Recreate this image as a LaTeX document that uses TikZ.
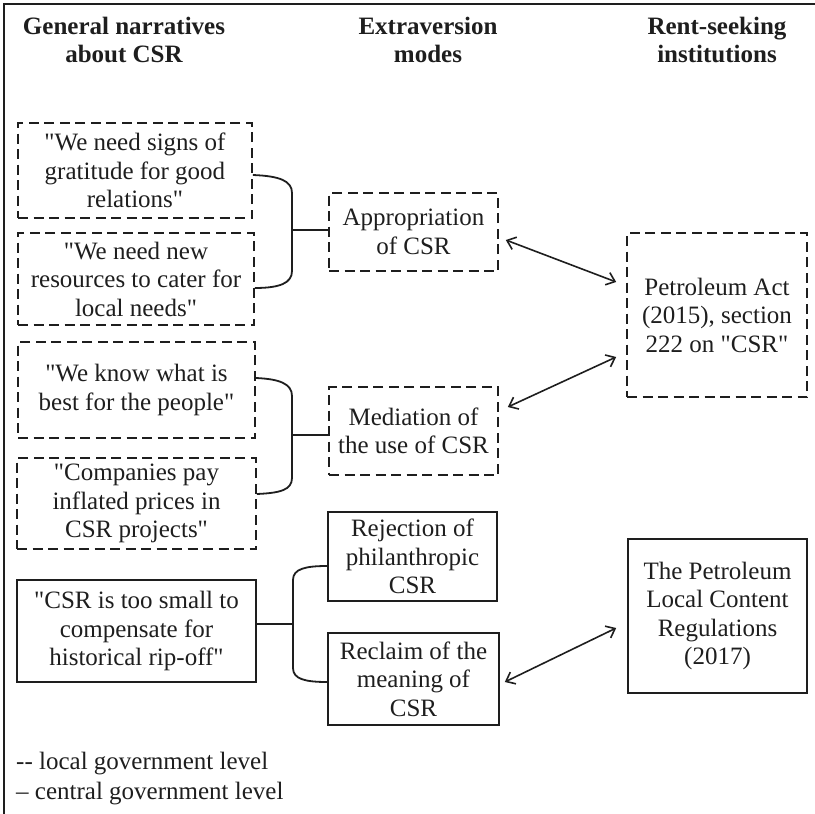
\documentclass[tikz,border=0pt]{standalone}
\usepackage{fontspec}
\setmainfont{Liberation Serif}[Ligatures=TeXOff]
\usetikzlibrary{arrows.meta}
\definecolor{ink}{HTML}{1E1E1E}
\begin{document}
\begin{tikzpicture}[x=1pt,y=-1pt,
  every node/.style={text=ink, font=\fontsize{25}{28.5}\selectfont, align=center, inner sep=0pt},
  narbox/.style={draw=ink, line width=1.6pt, rectangle},
  dashbox/.style={narbox, dash pattern=on 10pt off 5.5pt},
  head/.style={font=\fontsize{25}{28}\selectfont\bfseries},
  legend/.style={anchor=west},
  brace/.style={draw=ink, line width=1.8pt},
  link/.style={draw=ink, line width=1.6pt, {Straight Barb[length=8pt,width=13pt]}-{Straight Barb[length=8pt,width=13pt]}}
]
\useasboundingbox (0,0) rectangle (815,814);
% frame (top and left edges)
\draw[ink, line width=1.4pt] (4,814) -- (4,4) -- (815,4);

% headers
\node[head] (h1) at (124,40) {General narratives\\about CSR};
\node[head] (h2) at (428,40) {Extraversion\\modes};
\node[head] (h3) at (717,40) {Rent-seeking\\institutions};

% column 1
\node[dashbox, minimum width=234pt, minimum height=95pt] (b1) at (135,170.5) {"We need signs of\\gratitude for good\\relations"};
\node[dashbox, minimum width=236pt, minimum height=92pt] (b2) at (136,279) {"We need new\\resources to cater for\\local needs"};
\node[dashbox, minimum width=237pt, minimum height=96pt] (b3) at (136.5,390) {"We know what is\\best for the people"};
\node[dashbox, minimum width=239pt, minimum height=91pt] (b4) at (136.5,503.5) {"Companies pay\\inflated prices in\\CSR projects"};
\node[narbox, minimum width=239pt, minimum height=102pt] (b5) at (136.5,631) {"CSR is too small to\\compensate for\\historical rip-off"};

% column 2
\node[dashbox, minimum width=169pt, minimum height=78pt] (app) at (413.5,232) {Appropriation\\of CSR};
\node[dashbox, minimum width=169pt, minimum height=88pt] (med) at (413.5,431) {Mediation of\\the use of CSR};
\node[narbox, minimum width=169pt, minimum height=89pt] (rej) at (412.5,556.5) {Rejection of\\philanthropic\\CSR};
\node[narbox, minimum width=171pt, minimum height=92pt] (rec) at (413.5,679) {Reclaim of the\\meaning of\\CSR};

% column 3
\node[dashbox, minimum width=180pt, minimum height=164pt] (pa) at (717,315) {Petroleum Act\\(2015), section\\222 on "CSR"};
\node[narbox, minimum width=179pt, minimum height=154pt] (reg) at (717.5,616) {The Petroleum\\Local Content\\Regulations\\(2017)};

% legend
\node[legend] (l1) at (16,764) {-- local government level};
\node[legend] (l2) at (16,794) {\textendash{} central government level};

% brackets
\coordinate (j1) at (292,230);
\path[brace] (b1.east |- 0,175) .. controls (280,176) and (292,181) .. (292,193)
  -- (292,271) .. controls (292,283) and (280,288) .. (b2.east |- 0,288);
\path[brace] (j1) -- (app.west |- j1);

\coordinate (j2) at (292,435);
\path[brace] (b3.east |- 0,378) .. controls (280,379) and (292,384) .. (292,396)
  -- (292,478) .. controls (292,490) and (280,493) .. (b4.east |- 0,494);
\path[brace] (j2) -- (med.west |- j2);

\coordinate (j3) at (293,624);
\path[brace] (b5.east |- j3) -- (j3);
\path[brace] (rej.west |- 0,566) .. controls (305,566) and (293,569) .. (293,580)
  -- (293,668) .. controls (293,679) and (305,682) .. (rec.west |- 0,682);

% arrows
\path[link] ([xshift=7pt,yshift=-8pt]app.east) -- ([xshift=-10pt,yshift=33pt]pa.west);
\path[link] ([xshift=9pt,yshift=24pt]med.east) -- ([xshift=-10pt,yshift=-42pt]pa.west);
\path[link] ([xshift=5pt,yshift=-3pt]rec.east) -- ([xshift=-11pt,yshift=-12pt]reg.west);
\end{tikzpicture}
\end{document}
